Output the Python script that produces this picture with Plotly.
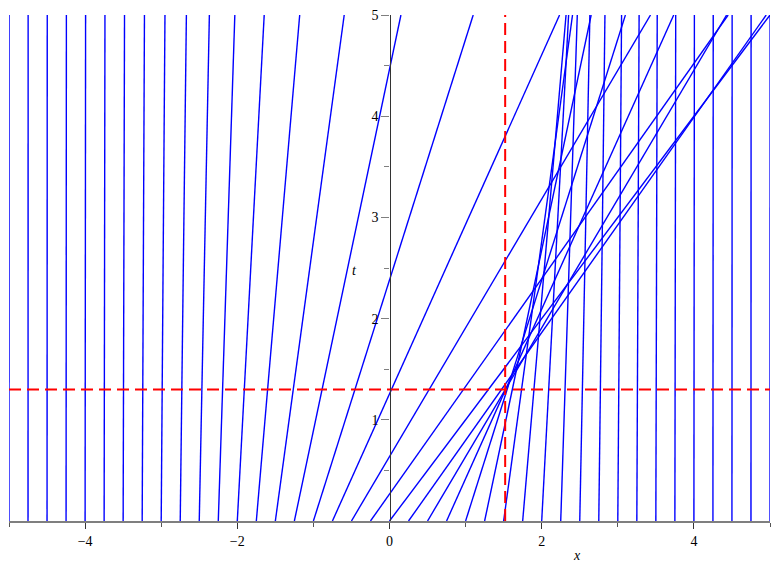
import plotly.graph_objects as go

# starting positions of the characteristics (x at t = 0)
x0_values = [-5.0, -4.75, -4.5, -4.25, -4.0, -3.75, -3.5, -3.25, -3.0, -2.75,
             -2.5, -2.25, -2.0, -1.75, -1.5, -1.25, -1.0, -0.75, -0.5, -0.25,
             0.0, 0.25, 0.5, 0.75, 1.0, 1.25, 1.5, 1.75, 2.0, 2.25,
             2.5, 2.75, 3.0, 3.25, 3.5, 3.75, 4.0, 4.25, 4.5, 4.75, 5.0]
# speed (dx/dt) of each characteristic
speeds = [0.0002, 0.0003, 0.0005, 0.0008, 0.0013, 0.0022, 0.0036, 0.006, 0.0099, 0.0162,
          0.0266, 0.0435, 0.0707, 0.114, 0.181, 0.280, 0.420, 0.597, 0.786, 0.940,
          1.0, 0.940, 0.786, 0.597, 0.420, 0.280, 0.181, 0.114, 0.0707, 0.0435,
          0.0266, 0.0162, 0.0099, 0.006, 0.0036, 0.0022, 0.0013, 0.0008, 0.0005, 0.0003, 0.0002]
t_end = 5.0
shock_x = 1.52
shock_t = 1.30

xs, ts = [], []
for x0, c in zip(x0_values, speeds):
    xs += [x0, x0 + c * t_end, None]
    ts += [0.0, t_end, None]

fig = go.Figure()
fig.add_trace(go.Scatter(x=xs, y=ts, mode="lines",
                         line=dict(color="#0000FF", width=1.4),
                         hoverinfo="skip", showlegend=False))
fig.add_trace(go.Scatter(x=[-5, 5], y=[shock_t, shock_t], mode="lines",
                         line=dict(color="#FF0000", width=2, dash="12px,6px"),
                         hoverinfo="skip", showlegend=False))
fig.add_trace(go.Scatter(x=[shock_x, shock_x], y=[0, t_end], mode="lines",
                         line=dict(color="#FF0000", width=2, dash="12px,6px"),
                         hoverinfo="skip", showlegend=False))

font = dict(family="Liberation Serif", size=14, color="black")

fig.update_layout(
    width=778, height=569,
    margin=dict(l=9, r=8, t=15, b=48, autoexpand=False),
    paper_bgcolor="white", plot_bgcolor="white",
    font=font,
    hovermode=False,
    xaxis=dict(range=[-5, 5], showgrid=False, zeroline=False, automargin=False,
               showline=True, linecolor="#7f7f7f", linewidth=2,
               tickmode="array", tickvals=[-4, -2, 0, 2, 4],
               ticktext=["\u22124", "\u22122", "0", "2", "4"],
               ticks="outside", ticklen=6, tickcolor="#333333", tickwidth=1,
               minor=dict(tickmode="array", tickvals=[-5, -3, -1, 1, 3, 5],
                          ticks="outside", ticklen=4, tickcolor="#555555", tickwidth=1),
               tickfont=font, fixedrange=True),
    yaxis=dict(range=[0, 5], showgrid=False, zeroline=False, automargin=False,
               anchor="free", position=0.5,
               showline=True, linecolor="#333333", linewidth=1.2,
               tickmode="array", tickvals=[1, 2, 3, 4, 5],
               ticks="outside", ticklen=8, tickcolor="#7f7f7f", tickwidth=1,
               minor=dict(tickmode="array", tickvals=[0.5, 1.5, 2.5, 3.5, 4.5],
                          ticks="outside", ticklen=5, tickcolor="#7f7f7f", tickwidth=1),
               tickfont=font, fixedrange=True),
    annotations=[
        dict(text="<i>x</i>", x=2.47, xref="x", y=-0.069, yref="paper",
             showarrow=False, font=font, xanchor="center", yanchor="middle"),
        dict(text="<i>t</i>", x=-0.46, xref="x", y=2.48, yref="y",
             showarrow=False, font=font, xanchor="center", yanchor="middle"),
    ],
)

fig.write_html("out.html", config={"displayModeBar": False},
               post_script="document.body.style.margin='0';document.body.style.overflow='hidden';")
